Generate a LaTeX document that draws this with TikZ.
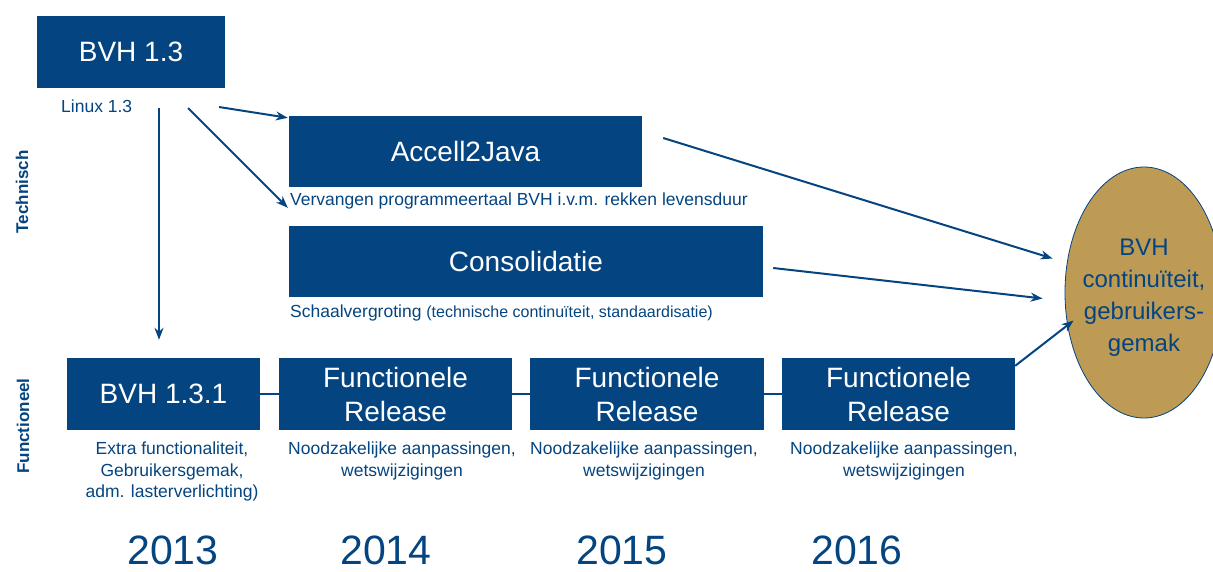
\documentclass[tikz,border=0pt]{standalone}
\usepackage{fontspec}
\setmainfont{Liberation Sans}
\usetikzlibrary{arrows.meta, shapes.geometric, positioning}
\definecolor{bvhblue}{RGB}{4,68,128}
\definecolor{bvhgold}{RGB}{190,155,85}
\tikzset{
	box/.style={fill=bvhblue, text=white, minimum height=72, inner sep=0, align=center, font=\fontsize{28}{34}\selectfont},
	note/.style={text=bvhblue, inner sep=0, align=center, font=\fontsize{17.5}{21.5}\selectfont},
	year/.style={text=bvhblue, inner sep=0, anchor=north, font=\fontsize{41}{41}\selectfont},
	side/.style={text=bvhblue, inner sep=0, rotate=90, font=\fontsize{17}{17}\selectfont\bfseries},
	goal/.style={ellipse, fill=bvhgold, draw=bvhblue, line width=0.8, minimum width=158, minimum height=251, inner sep=0},
	arr/.style={->, draw=bvhblue, line width=2},
	link/.style={draw=bvhblue, line width=2}
}

\begin{document}
\begin{tikzpicture}[x=1pt, y=-1pt, >={Stealth[length=12pt,width=9pt]}]
	\clip (0,0) rectangle (1213,571);

	\node[side]	(tech)	at (22,192)	{Technisch};
	\node[side]	(func)	at (23,426)	{Functioneel};

	\node[box, minimum width=188]	(bvh13)	at (131,52)	{BVH 1.3};
	\node[note, anchor=base west]	(linux)	at (61,112)	{Linux 1.3};

	\node[box, minimum width=353, minimum height=71]	(accell)	at (465.5,151.5)	{Accell2Java};
	\node[note, anchor=base west]	(accnote)	at (290,205)	{Vervangen programmeertaal BVH i.v.m. rekken levensduur};
	\node[box, minimum width=474, minimum height=71]	(cons)	at (526,261.5)	{Consolidatie};
	\node[note, anchor=base west]	(consnote)	at (290,317)	{Schaalvergroting {\fontsize{16}{20}\selectfont(technische continuïteit, standaardisatie)}};

	\node[box, minimum width=193]	(bvh131)	at (163.5,394)	{BVH 1.3.1};
	\node[box, minimum width=233]	(fr1)	at (395.5,394)	{Functionele\\Release};
	\node[box, minimum width=234]	(fr2)	at (647,394)	{Functionele\\Release};
	\node[box, minimum width=233]	(fr3)	at (898.5,394)	{Functionele\\Release};

	\node[note, anchor=north]	(n0)	at (172,442)	{Extra functionaliteit,\\Gebruikersgemak,\\adm. lasterverlichting)};
	\node[note, anchor=north]	(n1)	at (402,442)	{Noodzakelijke aanpassingen,\\wetswijzigingen};
	\node[note, anchor=north]	(n2)	at (644,442)	{Noodzakelijke aanpassingen,\\wetswijzigingen};
	\node[note, anchor=north]	(n3)	at (904,442)	{Noodzakelijke aanpassingen,\\wetswijzigingen};

	\node[year]	(y13)	at (173,536)	{2013};
	\node[year]	(y14)	at (386,536)	{2014};
	\node[year]	(y15)	at (622,536)	{2015};
	\node[year]	(y16)	at (857,536)	{2016};

	\node[goal]	(ell)	at (1144,292.5)	{};
	\node[text=bvhblue, align=center, font=\fontsize{24}{32}\selectfont]	(elltxt)	at (1144,298)	{BVH\\continuïteit,\\gebruikers-\\gemak};

	% timeline
	\draw[link] (bvh131) -- (fr1);
	\draw[link] (fr1) -- (fr2);
	\draw[link] (fr2) -- (fr3);

	\coordinate	(t1)	at (159,108);
	\coordinate	(t2)	at (188,108);
	\coordinate	(t3)	at (219,107);
	\draw[arr] (t1) -- (t1 |- bvh131.north) [shorten >=18pt];
	\draw[arr] (t2) -- ([shift={(-1,-18)}]cons.north west);
	\draw[arr] (t3) -- ([shift={(-1,2)}]accell.north west);

	\draw[arr] ([shift={(21,-13.5)}]accell.east) -- ([shift={(-12,-34)}]ell.west);
	\draw[arr] ([shift={(10,6.5)}]cons.east) -- ([shift={(-22,6)}]ell.west);
	\draw[arr] ([shift={(0,8)}]fr3.north east) -- ([shift={(9,28)}]ell.west);
\end{tikzpicture}
\end{document}
